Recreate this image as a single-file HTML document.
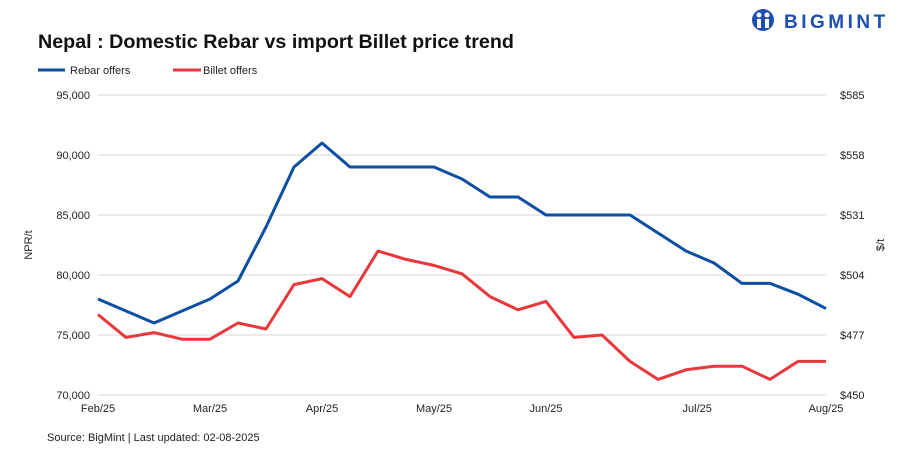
<!DOCTYPE html>
<html><head><meta charset="utf-8"><style>
body{margin:0;background:#fff;font-family:"Liberation Sans",sans-serif;}
svg text{font-family:"Liberation Sans",sans-serif;}
</style></head><body>
<svg id="chart" width="907" height="454" viewBox="0 0 907 454">
<text x="38" y="48" font-size="19.7" font-weight="bold" fill="#111">Nepal : Domestic Rebar vs import Billet price trend</text>
<g>
<circle cx="763" cy="20" r="11" fill="#1d4fb0"/>
<circle cx="759" cy="15" r="2.5" fill="#fff"/><circle cx="767" cy="15" r="2.5" fill="#fff"/>
<rect x="757" y="19" width="4" height="9" fill="#fff"/><rect x="765" y="19" width="4" height="9" fill="#fff"/>
<text x="784" y="28" font-size="19" font-weight="bold" fill="#1d4fb0" letter-spacing="3.5">BIGMINT</text>
</g>
<g>
<line x1="38" y1="70" x2="65" y2="70" stroke="#0b4ea2" stroke-width="3"/>
<text x="70" y="74" font-size="11" fill="#222">Rebar offers</text>
<line x1="173" y1="70" x2="201" y2="70" stroke="#e8383b" stroke-width="3"/>
<text x="203" y="74" font-size="11" fill="#222">Billet offers</text>
</g>
<text transform="translate(32,245) rotate(-90)" text-anchor="middle" font-size="11" fill="#222">NPR/t</text>
<text transform="translate(884,245) rotate(-90)" text-anchor="middle" font-size="11" fill="#222">$/t</text>
<text x="47" y="441" font-size="11" fill="#222">Source: BigMint | Last updated: 02-08-2025</text>
<g id="grid"></g><g id="axes"></g><g id="series"></g>
</svg>
<script>
const leftTicks=[70000,75000,80000,85000,90000,95000];
const rightTicks=["$450","$477","$504","$531","$558","$585"];
const xLabels=["Feb/25","Mar/25","Apr/25","May/25","Jun/25","Jul/25","Aug/25"];
const xLabelIdx=[0,4,8,12,16,21.4,26];
const rebar=[78000,77000,76000,77000,78000,79500,84000,89000,91000,89000,89000,89000,89000,88000,86500,86500,85000,85000,85000,85000,83500,82000,81000,79300,79300,78400,77200];
const billet=[76700,74800,75200,74650,74650,76000,75500,79200,79700,78200,82000,81300,80800,80100,78200,77100,77800,74800,75000,72800,71300,72100,72400,72400,71300,72800,72800];
const NS="http://www.w3.org/2000/svg";
const x0=98,x1=826,yTop=95,yBot=395,vMin=70000,vMax=95000;
const n=rebar.length;
function xs(i){return x0+(x1-x0)*i/(n-1);}
function ys(v){return yBot-(v-vMin)/(vMax-vMin)*(yBot-yTop);}
function mk(tag,attrs,parent){const e=document.createElementNS(NS,tag);for(const k in attrs)e.setAttribute(k,attrs[k]);document.getElementById(parent).appendChild(e);return e;}
leftTicks.forEach((t,i)=>{
 const y=ys(t);
 const g=mk('line',{x1:x0,x2:x1,y1:y,y2:y,stroke:'#d9d9d9','stroke-width':1},'grid');
 
 
 const l=mk('text',{x:90,y:y+4,'text-anchor':'end','font-size':11,fill:'#222'},'axes');
 l.textContent=t.toLocaleString('en-US');
 
 
 const r=mk('text',{x:840,y:y+4,'font-size':11,fill:'#222'},'axes');
 r.textContent=rightTicks[i];
 
 
});
xLabels.forEach((s,i)=>{
 const t=mk('text',{x:xs(xLabelIdx[i]),y:412,'text-anchor':'middle','font-size':11,fill:'#222'},'axes');
 t.textContent=s;
 
 
});
function line(data,color,name){
 const p=mk('polyline',{points:data.map((v,i)=>xs(i)+','+ys(v)).join(' '),fill:'none',stroke:color,'stroke-width':3,'stroke-linejoin':'round'},'series');
 
 
}
line(rebar,'#0b4ea2','rebar-line');
line(billet,'#e8383b','billet-line');
</script>
</body></html>
